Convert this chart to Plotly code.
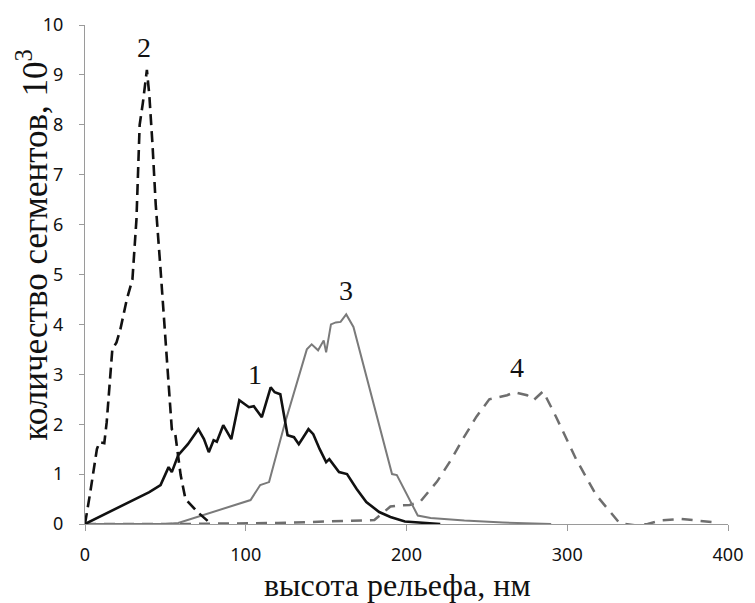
import plotly.graph_objects as go

# Curve 1 (black solid)
x1 = [0, 40, 47, 50, 52, 54, 58, 64, 70.5, 74, 77, 80, 82, 86, 91, 96, 102, 105, 110, 115.5, 118, 121.5,
      124, 126, 130, 133, 136, 139, 142, 146, 150, 152, 158, 163, 169, 175, 183, 190, 199, 210, 221]
y1 = [0, 0.64, 0.78, 0.98, 1.14, 1.04, 1.38, 1.6, 1.9, 1.7, 1.44, 1.68, 1.65, 1.98, 1.7, 2.48, 2.34, 2.36,
      2.14, 2.74, 2.64, 2.6, 2.18, 1.78, 1.74, 1.6, 1.75, 1.9, 1.8, 1.5, 1.24, 1.3, 1.04, 1.0, 0.7, 0.44,
      0.24, 0.14, 0.05, 0.02, 0.0]

# Curve 2 (black dashed)
x2 = [0, 1, 3, 7.4, 9, 12, 13.5, 17, 19.6, 22, 26, 29.5, 32, 34, 36, 38.5, 40, 42, 44, 47, 48, 52, 54,
      56, 59.5, 62.5, 70, 78.5]
y2 = [0, 0.18, 0.58, 1.5, 1.64, 1.62, 2.04, 3.5, 3.64, 3.9, 4.5, 4.9, 6.1, 8.0, 8.44, 9.1, 8.6, 7.6,
      6.4, 5.1, 4.64, 2.84, 1.9, 1.84, 0.98, 0.5, 0.24, 0.0]

# Curve 3 (grey solid)
x3 = [0, 50, 58, 103, 109, 114.5, 124, 138, 141, 145, 148.5, 150, 153, 156, 159, 162.5, 167, 179, 191,
      194, 207, 215, 236, 260, 290]
y3 = [0, 0, 0.02, 0.48, 0.78, 0.84, 1.98, 3.5, 3.6, 3.48, 3.68, 3.44, 4.0, 4.04, 4.05, 4.2, 3.95, 2.45,
      1.0, 0.98, 0.17, 0.12, 0.07, 0.03, 0.0]

# Curve 4 (grey dashed)
x4 = [0, 60, 120, 180, 190, 194.5, 202, 208.6, 219, 228, 235, 243.5, 251.5, 262.6, 267, 275, 279, 285,
      293, 305.5, 318, 332.5, 343, 350, 358, 371, 393]
y4 = [0, 0, 0.02, 0.08, 0.35, 0.37, 0.38, 0.45, 0.85, 1.3, 1.7, 2.15, 2.5, 2.58, 2.64, 2.58, 2.48, 2.66,
      2.15, 1.3, 0.58, 0.02, -0.03, 0.0, 0.07, 0.1, 0.03]

labels = ["1", "2", "3", "4"]
label_x = [106, 36.8, 162.6, 268.5]
label_y = [3.0, 9.54, 4.68, 3.14]

x_ticks = [0, 100, 200, 300, 400]
y_ticks = [0, 1, 2, 3, 4, 5, 6, 7, 8, 9, 10]

x_title = "высота рельефа, нм"
y_title = "количество сегментов, 10<sup>3</sup>"

fig = go.Figure()
fig.add_trace(go.Scatter(x=x4, y=y4, mode="lines", line=dict(color="#6e6e6e", width=2.5, dash="11px,8px")))
fig.add_trace(go.Scatter(x=x3, y=y3, mode="lines", line=dict(color="#7a7a7a", width=2)))
fig.add_trace(go.Scatter(x=x2, y=y2, mode="lines", line=dict(color="#111111", width=2.6, dash="11px,6px")))
fig.add_trace(go.Scatter(x=x1, y=y1, mode="lines", line=dict(color="#111111", width=2.6)))

for t, xx, yy in zip(labels, label_x, label_y):
    fig.add_annotation(x=xx, y=yy, text=t, showarrow=False,
                       font=dict(family="Liberation Serif", size=28, color="#111"))

# axis titles placed as annotations (reference places them off-centre)
fig.add_annotation(xref="paper", yref="paper", x=(402 - 85) / 652, y=(524 - 585) / 502,
                   xanchor="center", yanchor="middle", text=x_title, showarrow=False,
                   font=dict(family="Liberation Serif", size=32, color="#111"))
fig.add_annotation(xref="paper", yref="paper", x=(32 - 85) / 652, y=(524 - 243) / 502,
                   xanchor="center", yanchor="middle", text=y_title, showarrow=False, textangle=-90,
                   font=dict(family="Liberation Serif", size=35, color="#111"))

fig.update_layout(
    width=755, height=603,
    margin=dict(l=85, r=18, t=22, b=79),
    paper_bgcolor="white", plot_bgcolor="white",
    showlegend=False,
    xaxis=dict(range=[0, 400], tickvals=x_ticks, showgrid=False, zeroline=False,
               showline=True, linecolor="#9a9a9a", linewidth=1.2,
               ticks="outside", ticklen=6, tickcolor="#9a9a9a",
               tickfont=dict(family="Noto Sans", size=18, color="#111"),
               ticklabelstandoff=8),
    yaxis=dict(range=[0, 10], tickvals=y_ticks, showgrid=False, zeroline=False,
               showline=True, linecolor="#9a9a9a", linewidth=1.2,
               ticks="outside", ticklen=5, tickcolor="#9a9a9a",
               tickfont=dict(family="Noto Sans", size=18, color="#111"),
               ticklabelstandoff=12),
)

fig.write_html("out.html")
